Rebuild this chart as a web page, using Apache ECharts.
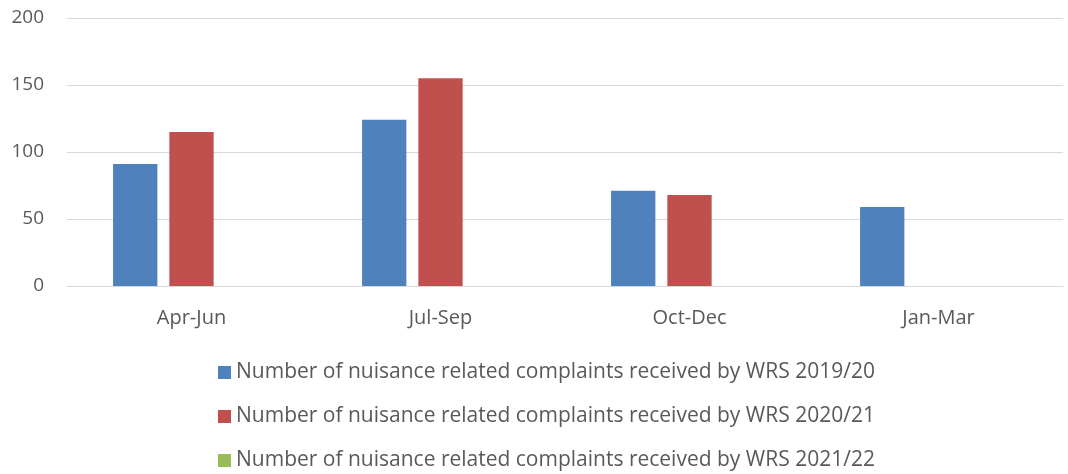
<!DOCTYPE html>
<html>
<head>
<meta charset="utf-8">
<script src="https://cdn.jsdelivr.net/npm/echarts@6/dist/echarts.min.js"></script>
<style>
  html, body { margin: 0; padding: 0; background: #fff; }
  #chart { width: 1068px; height: 474px; }
</style>
</head>
<body>
<div id="chart"></div>
<script>
const quarters = ["Apr-Jun", "Jul-Sep", "Oct-Dec", "Jan-Mar"];
const seriesNames = [
  "Number of nuisance related complaints received by WRS 2019/20",
  "Number of nuisance related complaints received by WRS 2020/21",
  "Number of nuisance related complaints received by WRS 2021/22"
];
const complaints2019 = [91, 124, 71, 59];
const complaints2020 = [115, 155, 68, null];
const complaints2021 = [null, null, null, null];
const colors = ["#4F81BD", "#C0504D", "#9BBB59"];

const font = "Open Sans";
const textColor = "#595959";

const chart = echarts.init(document.getElementById("chart"));

const barSeries = [complaints2019, complaints2020, complaints2021].map((values, i) => ({
  name: seriesNames[i],
  type: "bar",
  data: values,
  barGap: "27%",
  barCategoryGap: "37%",
  itemStyle: {color: colors[i]}
}));

chart.setOption({
  animation: false,
  color: colors,
  grid: {left: 67, right: 5, top: 18, bottom: 188},
  xAxis: {
    type: "category",
    data: quarters,
    axisLine: {lineStyle: {color: "#D9D9D9", width: 1}},
    axisTick: {show: false},
    axisLabel: {color: textColor, fontFamily: font, fontSize: 20, margin: 22}
  },
  yAxis: {
    type: "value",
    min: 0,
    max: 200,
    interval: 50,
    axisLine: {show: false},
    axisTick: {show: false},
    axisLabel: {color: textColor, fontFamily: font, fontSize: 19, margin: 23},
    splitLine: {lineStyle: {color: "#D9D9D9", width: 1}}
  },
  legend: {
    orient: "vertical",
    left: 213,
    top: 357,
    height: 130,
    itemWidth: 13,
    itemHeight: 13,
    itemGap: 23,
    icon: "rect",
    textStyle: {color: textColor, fontFamily: font, fontSize: 21},
    data: seriesNames
  },
  series: barSeries
});
</script>
</body>
</html>
